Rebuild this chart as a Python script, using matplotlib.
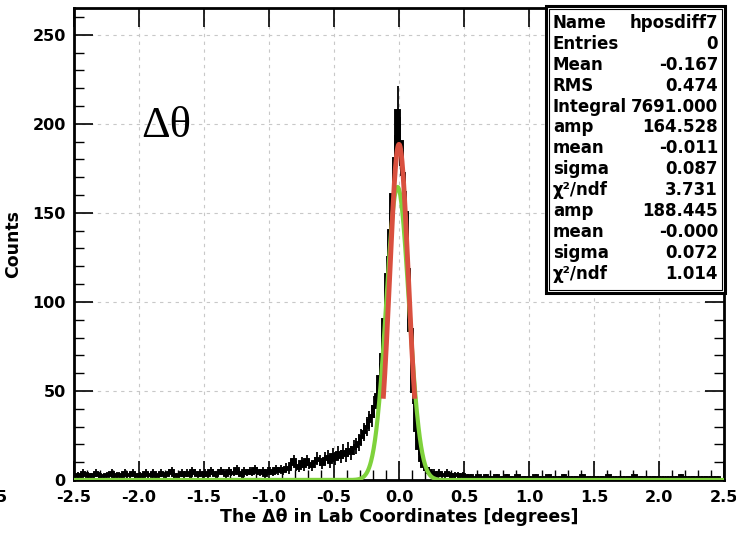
import numpy as np
import matplotlib.pyplot as plt
from matplotlib.patches import Rectangle
from matplotlib.ticker import MultipleLocator

# histogram: 250 bins of 0.02 from -2.5 to 2.5
bin_lo = -2.5
bin_w = 0.02
counts = [
    # -2.5 .. -2.0
    2, 3, 2, 4, 3, 3, 2, 3, 4, 3, 2, 2, 3, 3, 4, 2, 3, 3, 2, 4, 3, 3, 4, 3, 2,
    # -2.0 .. -1.5
    3, 2, 4, 3, 3, 4, 2, 3, 4, 3, 3, 4, 5, 3, 2, 3, 4, 3, 4, 3, 5, 4, 3, 4, 3,
    # -1.5 .. -1.0
    4, 3, 5, 4, 3, 4, 5, 4, 3, 5, 4, 4, 6, 4, 3, 5, 4, 5, 4, 6, 5, 4, 5, 3, 5,
    # -1.0 .. -0.5
    5, 4, 6, 5, 6, 5, 7, 6, 9, 11, 8, 7, 10, 8, 11, 9, 8, 10, 12, 11, 9, 12, 13, 10, 14,
    # -0.5 .. -0.3
    12, 15, 13, 16, 14, 17, 15, 18, 19, 21,
    # -0.3 .. 0.3
    24, 27, 30, 33, 36, 41, 48, 58, 70, 90, 115, 140, 160, 180, 207,
    190, 172, 150, 118, 84, 50, 28, 18, 11, 8, 6, 5, 4, 4, 3,
    # 0.3 .. 0.5
    4, 3, 3, 4, 3, 2, 3, 3, 2, 3,
    # 0.5 .. 1.0
    2, 1, 2, 1, 1, 2, 1, 1, 2, 1, 1, 0, 2, 1, 1, 1, 2, 1, 0, 1, 2, 1, 1, 0, 1,
    # 1.0 .. 1.5
    1, 1, 2, 1, 0, 1, 1, 2, 1, 0, 1, 1, 1, 2, 1, 0, 1, 1, 1, 0, 2, 1, 1, 0, 1,
    # 1.5 .. 2.0
    1, 0, 1, 1, 1, 2, 1, 0, 1, 1, 0, 1, 1, 1, 0, 2, 1, 1, 0, 1, 1, 0, 1, 1, 0,
    # 2.0 .. 2.5
    1, 1, 0, 1, 1, 0, 1, 1, 2, 1, 0, 1, 1, 0, 1, 1, 0, 1, 1, 0, 1, 1, 1, 0, 0,
]

# fit results
amp1, mean1, sigma1 = 164.528, -0.011, 0.087   # green
amp2, mean2, sigma2 = 188.445, -0.000, 0.072   # red
red_range = (-0.12, 0.12)

stats_names = ["Name", "Entries", "Mean", "RMS", "Integral", "amp", "mean",
               "sigma", "χ²/ndf", "amp", "mean", "sigma", "χ²/ndf"]
stats_vals = ["hposdiff7", "0", "-0.167", "0.474", "7691.000", "164.528",
              "-0.011", "0.087", "3.731", "188.445", "-0.000", "0.072", "1.014"]

fig = plt.figure(figsize=(7.36, 5.33), dpi=100)
ax = fig.add_axes([74 / 736, 1 - 480 / 533, 650 / 736, 472 / 533])

counts = np.array(counts, dtype=float)
edges = bin_lo + bin_w * np.arange(len(counts) + 1)
centers = 0.5 * (edges[:-1] + edges[1:])

ax.stairs(counts, edges, color="black", linewidth=2.8, zorder=3)
ax.vlines(centers, counts - np.sqrt(counts), counts + np.sqrt(counts),
          color="black", linewidth=1.3, zorder=3)

xg = np.linspace(-2.5, 2.5, 2001)
ax.plot(xg, amp1 * np.exp(-0.5 * ((xg - mean1) / sigma1) ** 2),
        color="#7fd23c", linewidth=3, zorder=4)
xr = np.linspace(red_range[0], red_range[1], 200)
ax.plot(xr, amp2 * np.exp(-0.5 * ((xr - mean2) / sigma2) ** 2),
        color="#d9503f", linewidth=3.5, zorder=5)

ax.set_xlim(-2.5, 2.5)
ax.set_ylim(0, 265)
ax.xaxis.set_major_locator(MultipleLocator(0.5))
ax.xaxis.set_minor_locator(MultipleLocator(0.1))
ax.yaxis.set_major_locator(MultipleLocator(50))
ax.yaxis.set_minor_locator(MultipleLocator(10))
ax.set_xticks(np.arange(-2.5, 2.51, 0.5))
ax.set_xticklabels(["%.1f" % v for v in np.arange(-2.5, 2.51, 0.5)])

ax.tick_params(which="major", direction="in", length=14, width=1.2,
               labelsize=11.5, top=True, right=True)
ax.tick_params(axis="x", which="major", pad=7)
ax.tick_params(axis="y", which="major", pad=6)
ax.tick_params(which="minor", direction="in", length=7, width=1.0,
               top=False, right=True)
for lab in ax.get_xticklabels() + ax.get_yticklabels():
    lab.set_fontweight("bold")
for s in ax.spines.values():
    s.set_linewidth(2)

ax.grid(True, which="major", linestyle=(0, (3, 4)), color="#c8c8c8", linewidth=0.8)
ax.set_axisbelow(True)

ax.set_xlabel("The Δθ in Lab Coordinates [degrees]", fontsize=12.5,
              fontweight="bold", labelpad=2)
ax.set_ylabel("Counts", fontsize=12.5, fontweight="bold", labelpad=7)

ax.text(0.103, 0.75, "Δθ", transform=ax.transAxes, fontsize=32,
        family="Liberation Serif", va="center", ha="left")

# stats box
x0, y0, x1, y1 = 546 / 736, 1 - 293 / 533, 725 / 736, 1 - 6 / 533
fig.patches.append(Rectangle((x0, y0), x1 - x0, y1 - y0, transform=fig.transFigure,
                             facecolor="white", edgecolor="black", linewidth=2.2,
                             zorder=10))
d = 3 / 736
fig.patches.append(Rectangle((x0 + d, y0 + 3 / 533), x1 - x0 - 2 * d, y1 - y0 - 6 / 533,
                             transform=fig.transFigure, facecolor="none",
                             edgecolor="black", linewidth=0.8, zorder=11))
row_h = 20.9
for i, (n, v) in enumerate(zip(stats_names, stats_vals)):
    yy = 1 - (23 + i * row_h) / 533
    fig.text(553 / 736, yy, n, fontsize=12, fontweight="bold", va="center",
             ha="left", zorder=12)
    fig.text(718 / 736, yy, v, fontsize=12, fontweight="bold", va="center",
             ha="right", zorder=12)

# clipped label remnant at the far left
fig.text(-4 / 736, 1 - 497 / 533, "5", fontsize=11.5, fontweight="bold",
         va="center", ha="left")

fig.savefig("out.png", dpi=100)
